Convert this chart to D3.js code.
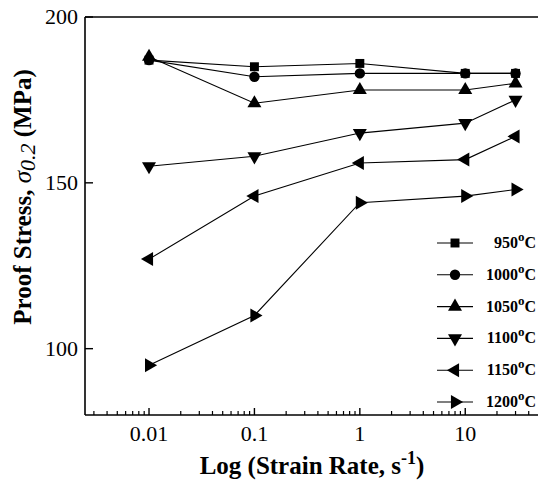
<!DOCTYPE html>
<html>
<head>
<meta charset="utf-8">
<script src="https://cdn.jsdelivr.net/npm/d3@7"></script>
<style>
  body { margin: 0; background: #fff; }
  svg text { font-family: "Liberation Serif", "Times New Roman", serif; }
</style>
</head>
<body>
<svg id="chart" width="538" height="491"></svg>
<script>
'use strict';

// strain rates (s^-1)
var rates = [0.01, 0.1, 1, 10, 30];

var temps = ["950", "1000", "1050", "1100", "1150", "1200"];
var s950  = [187, 185, 186, 183, 183];
var s1000 = [187, 182, 183, 183, 183];
var s1050 = [188, 174, 178, 178, 180];
var s1100 = [155, 158, 165, 168, 175];
var s1150 = [127, 146, 156, 157, 164];
var s1200 = [95, 110, 144, 146, 148];

var xTicks = [0.01, 0.1, 1, 10];
var xTickLabels = ["0.01", "0.1", "1", "10"];
var yTicks = [100, 150, 200];

var series = [s950, s1000, s1050, s1100, s1150, s1200];

var svg = d3.select("#chart");
var pLeft = 85, pRight = 538, pTop = 17, pBottom = 415;

var x = d3.scaleLog().domain([0.00247, 49]).range([pLeft, pRight]);
var y = d3.scaleLinear().domain([80, 200]).range([pBottom, pTop]);

// marker shapes: symbol + rotation
var shapes = [
  { sym: d3.symbolSquare, rot: 0, size: 80 },
  { sym: d3.symbolCircle, rot: 0, size: 85 },
  { sym: d3.symbolTriangle, rot: 0, size: 85 },
  { sym: d3.symbolTriangle, rot: 180, size: 85 },
  { sym: d3.symbolTriangle, rot: -90, size: 85 },
  { sym: d3.symbolTriangle, rot: 90, size: 85 }
];

var line = d3.line()
  .x(function(d) { return x(d.r); })
  .y(function(d) { return y(d.v); });

series.forEach(function(vals, i) {
  var pts = rates.map(function(r, j) { return { r: r, v: vals[j] }; });
  var g = svg.append("g");
  g.append("path")
    .datum(pts)
    .attr("d", line)
    .attr("fill", "none")
    .attr("stroke", "#000")
    .attr("stroke-width", 1.1);
  var sh = shapes[i];
  g.selectAll("path.mk")
    .data(pts)
    .enter().append("path")
    .attr("class", "mk")
    .attr("d", d3.symbol().type(sh.sym).size(sh.size))
    .attr("transform", function(d) {
      return "translate(" + x(d.r) + "," + y(d.v) + ") rotate(" + sh.rot + ")";
    })
    .attr("fill", "#000");
});

// frame: left, top, bottom
var axisG = svg.append("g").attr("stroke", "#000").attr("stroke-width", 1.6).attr("fill", "none");
axisG.append("line").attr("x1", pLeft).attr("x2", pLeft).attr("y1", pTop).attr("y2", pBottom);
axisG.append("line").attr("x1", pLeft).attr("x2", pRight).attr("y1", pTop).attr("y2", pTop);
axisG.append("line").attr("x1", pLeft).attr("x2", pRight).attr("y1", pBottom).attr("y2", pBottom);

// y ticks (inward)
yTicks.forEach(function(t) {
  axisG.append("line").attr("x1", pLeft).attr("x2", pLeft + 8)
    .attr("y1", y(t)).attr("y2", y(t)).attr("stroke-width", 1.4);
  svg.append("text")
    .attr("x", pLeft - 7).attr("y", y(t) + 7)
    .attr("text-anchor", "end")
    .attr("font-size", 22)
    .text(t);
});

// x ticks: major + minor (inward)
var minor = [];
[0.001, 0.01, 0.1, 1, 10].forEach(function(dec) {
  for (var k = 2; k <= 9; k++) {
    var v = dec * k;
    if (v > x.domain()[0] && v < x.domain()[1]) minor.push(v);
  }
});
minor.forEach(function(t) {
  axisG.append("line").attr("x1", x(t)).attr("x2", x(t))
    .attr("y1", pBottom).attr("y2", pBottom - 4).attr("stroke-width", 1.2);
});
xTicks.forEach(function(t, i) {
  axisG.append("line").attr("x1", x(t)).attr("x2", x(t))
    .attr("y1", pBottom).attr("y2", pBottom - 7).attr("stroke-width", 1.4);
  svg.append("text")
    .attr("x", x(t)).attr("y", pBottom + 26)
    .attr("text-anchor", "middle")
    .attr("font-size", 22)
    .text(xTickLabels[i]);
});

// axis titles
var xt = svg.append("text")
  .attr("x", 312).attr("y", 474)
  .attr("text-anchor", "middle")
  .attr("font-size", 25)
  .attr("font-weight", "bold");
xt.append("tspan").text("Log (Strain Rate, s");
xt.append("tspan").attr("dy", -10).attr("font-size", 18).text("-1");
xt.append("tspan").attr("dy", 10).text(")");

var yt = svg.append("text")
  .attr("transform", "translate(31,197) rotate(-90)")
  .attr("text-anchor", "middle")
  .attr("font-size", 25)
  .attr("font-weight", "bold");
yt.append("tspan").text("Proof Stress, ");
yt.append("tspan").attr("font-style", "italic").attr("font-weight", "normal").text("σ");
yt.append("tspan").attr("font-style", "italic").attr("font-weight", "normal").attr("dy", 4).attr("font-size", 22).text("0.2");
yt.append("tspan").attr("dy", -4).text(" (MPa)");

// legend
var legY0 = 243, legDy = 31.8;
temps.forEach(function(t, i) {
  var ly = legY0 + i * legDy;
  var sh = shapes[i];
  svg.append("line").attr("x1", 437).attr("x2", 473).attr("y1", ly).attr("y2", ly)
    .attr("stroke", "#000").attr("stroke-width", 1.1);
  svg.append("path")
    .attr("d", d3.symbol().type(sh.sym).size(sh.size))
    .attr("transform", "translate(455," + ly + ") rotate(" + sh.rot + ")")
    .attr("fill", "#000");
  var tx = svg.append("text")
    .attr("x", 536).attr("y", ly + 5)
    .attr("text-anchor", "end")
    .attr("font-size", 16)
    .attr("font-weight", "bold");
  tx.append("tspan").text(t);
  tx.append("tspan").attr("dy", -7).attr("font-size", 13).text("o");
  tx.append("tspan").attr("dy", 7).text("C");
});
</script>
</body>
</html>
